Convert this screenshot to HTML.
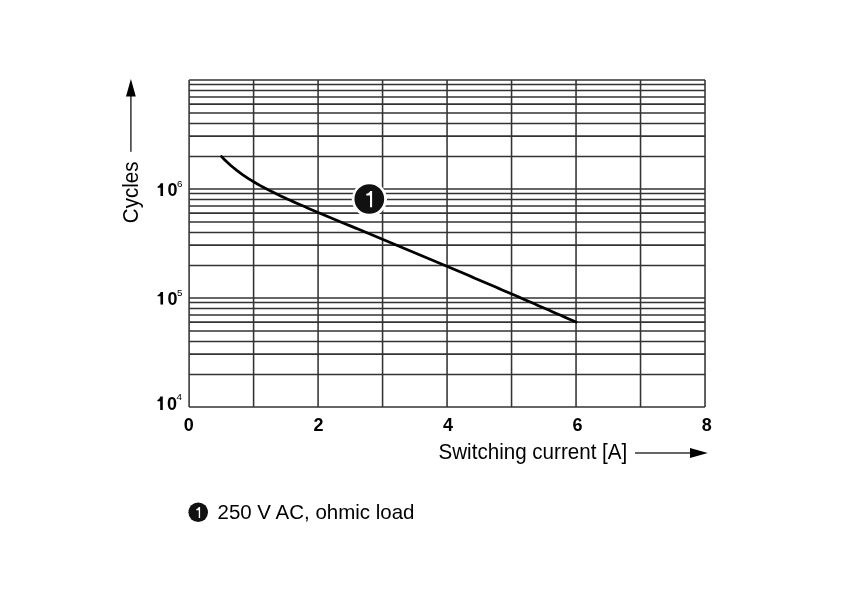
<!DOCTYPE html>
<html><head><meta charset="utf-8"><style>
html,body{margin:0;padding:0;background:#fff;}
svg{display:block;will-change:transform;}
text{font-family:"Liberation Sans",sans-serif;}
</style></head><body>
<svg width="841" height="611" viewBox="0 0 841 611">
<rect width="841" height="611" fill="#fff"/>
<g stroke="#333" stroke-width="1.55" fill="none">
<line x1="189.10" y1="84.55" x2="705.02" y2="84.55"/>
<line x1="189.10" y1="90.50" x2="705.02" y2="90.50"/>
<line x1="189.10" y1="97.00" x2="705.02" y2="97.00"/>
<line x1="189.10" y1="104.10" x2="705.02" y2="104.10"/>
<line x1="189.10" y1="113.00" x2="705.02" y2="113.00"/>
<line x1="189.10" y1="123.40" x2="705.02" y2="123.40"/>
<line x1="189.10" y1="136.10" x2="705.02" y2="136.10"/>
<line x1="189.10" y1="156.50" x2="705.02" y2="156.50"/>
<line x1="189.10" y1="193.55" x2="705.02" y2="193.55"/>
<line x1="189.10" y1="199.50" x2="705.02" y2="199.50"/>
<line x1="189.10" y1="206.00" x2="705.02" y2="206.00"/>
<line x1="189.10" y1="213.10" x2="705.02" y2="213.10"/>
<line x1="189.10" y1="222.00" x2="705.02" y2="222.00"/>
<line x1="189.10" y1="232.40" x2="705.02" y2="232.40"/>
<line x1="189.10" y1="245.10" x2="705.02" y2="245.10"/>
<line x1="189.10" y1="265.50" x2="705.02" y2="265.50"/>
<line x1="189.10" y1="302.55" x2="705.02" y2="302.55"/>
<line x1="189.10" y1="308.50" x2="705.02" y2="308.50"/>
<line x1="189.10" y1="315.00" x2="705.02" y2="315.00"/>
<line x1="189.10" y1="322.10" x2="705.02" y2="322.10"/>
<line x1="189.10" y1="331.00" x2="705.02" y2="331.00"/>
<line x1="189.10" y1="341.40" x2="705.02" y2="341.40"/>
<line x1="189.10" y1="354.10" x2="705.02" y2="354.10"/>
<line x1="189.10" y1="374.50" x2="705.02" y2="374.50"/>
<line x1="189.10" y1="189.00" x2="705.02" y2="189.00"/>
<line x1="189.10" y1="298.00" x2="705.02" y2="298.00"/>
<line x1="189.10" y1="406.90" x2="705.02" y2="406.90"/>
<line x1="189.10" y1="80.00" x2="705.02" y2="80.00"/>
<line x1="189.10" y1="80.00" x2="189.10" y2="406.90"/>
<line x1="253.59" y1="80.00" x2="253.59" y2="406.90"/>
<line x1="318.08" y1="80.00" x2="318.08" y2="406.90"/>
<line x1="382.57" y1="80.00" x2="382.57" y2="406.90"/>
<line x1="447.06" y1="80.00" x2="447.06" y2="406.90"/>
<line x1="511.55" y1="80.00" x2="511.55" y2="406.90"/>
<line x1="576.04" y1="80.00" x2="576.04" y2="406.90"/>
<line x1="640.53" y1="80.00" x2="640.53" y2="406.90"/>
<line x1="705.02" y1="80.00" x2="705.02" y2="406.90"/>
</g>
<path d="M221.60,156.58 L224.58,159.67 L227.56,162.55 L230.54,165.24 L233.52,167.78 L236.49,170.16 L239.47,172.42 L242.45,174.57 L245.43,176.61 L248.41,178.56 L251.39,180.42 L254.37,182.22 L257.35,183.95 L260.33,185.62 L263.31,187.24 L266.28,188.82 L269.26,190.35 L272.24,191.85 L275.22,193.32 L278.20,194.76 L281.18,196.17 L284.16,197.56 L287.14,198.93 L290.12,200.29 L293.10,201.62 L296.07,202.95 L299.05,204.26 L302.03,205.56 L305.01,206.85 L307.99,208.14 L310.97,209.41 L313.95,210.68 L316.93,211.94 L319.91,213.20 L322.89,214.46 L325.86,215.71 L328.84,216.96 L331.82,218.20 L334.80,219.45 L337.78,220.69 L340.76,221.93 L343.74,223.17 L346.72,224.40 L349.70,225.64 L352.68,226.88 L355.65,228.11 L358.63,229.35 L361.61,230.59 L364.59,231.82 L367.57,233.06 L370.55,234.30 L373.53,235.53 L376.51,236.77 L379.49,238.01 L382.47,239.25 L385.44,240.49 L388.42,241.73 L391.40,242.97 L394.38,244.21 L397.36,245.46 L400.34,246.70 L403.32,247.94 L406.30,249.19 L409.28,250.44 L412.26,251.68 L415.23,252.93 L418.21,254.18 L421.19,255.43 L424.17,256.69 L427.15,257.94 L430.13,259.19 L433.11,260.45 L436.09,261.71 L439.07,262.96 L442.05,264.22 L445.02,265.48 L448.00,266.75 L450.98,268.01 L453.96,269.27 L456.94,270.54 L459.92,271.80 L462.90,273.07 L465.88,274.34 L468.86,275.61 L471.84,276.88 L474.81,278.15 L477.79,279.42 L480.77,280.70 L483.75,281.97 L486.73,283.25 L489.71,284.53 L492.69,285.81 L495.67,287.09 L498.65,288.37 L501.63,289.65 L504.60,290.94 L507.58,292.22 L510.56,293.51 L513.54,294.79 L516.52,296.08 L519.50,297.37 L522.48,298.66 L525.46,299.96 L528.44,301.25 L531.42,302.55 L534.39,303.84 L537.37,305.14 L540.35,306.44 L543.33,307.74 L546.31,309.04 L549.29,310.34 L552.27,311.64 L555.25,312.95 L558.23,314.25 L561.21,315.56 L564.18,316.87 L567.16,318.18 L570.14,319.49 L573.12,320.80 L576.10,322.11" stroke="#000" stroke-width="2.75" fill="none" stroke-linecap="round"/>
<circle cx="369.4" cy="199.2" r="17.6" fill="#fff"/>
<circle cx="369.3" cy="199.0" r="14.85" fill="#111"/>
<path d="M372.10,190.90 L372.10,207.30 L370.00,207.30 L370.00,195.60 L366.30,195.60 L366.30,193.80 C368.15,193.60 369.70,192.06 370.20,190.90 Z" fill="#fff"/>
<!-- y axis arrow -->
<line x1="130.9" y1="96" x2="130.9" y2="151.8" stroke="#333" stroke-width="1.5"/>
<path d="M130.9,79.0 L126,96.6 L135.8,96.6 Z" fill="#000"/>
<text transform="translate(137.5,223.2) rotate(-90) scale(1,1.04)" font-size="20.55" fill="#000">Cycles</text>
<!-- y labels -->
<path d="M162.80,396.50 L162.80,409.90 L160.20,409.90 L160.20,401.20 L157.40,401.20 L157.40,400.00 C158.80,399.80 159.90,397.90 160.40,396.50 Z" fill="#000"/>
<path d="M163.05,291.95 L163.05,304.60 L160.45,304.60 L160.45,296.30 L157.60,296.30 L157.60,295.00 C159.03,294.80 160.15,293.17 160.65,291.95 Z" fill="#000"/>
<path d="M163.05,183.35 L163.05,196.05 L160.45,196.05 L160.45,187.75 L157.60,187.75 L157.60,186.45 C159.03,186.25 160.15,184.59 160.65,183.35 Z" fill="#000"/>
<g font-weight="bold" font-size="18" fill="#000">
<text x="167.0" y="409.9">0</text>
<text x="167.4" y="304.6">0</text>
<text x="167.4" y="196.05">0</text>
</g>
<g font-size="9.8" fill="#000">
<text x="176.6" y="399.9">4</text>
<text x="177.1" y="295.9">5</text>
<text x="177.1" y="187.0">6</text>
</g>
<!-- x labels -->
<g font-weight="bold" font-size="18" fill="#000" text-anchor="middle">
<text transform="translate(188.7,431.1) scale(1,1.04)">0</text>
<text transform="translate(318.6,431.1) scale(1,1.04)">2</text>
<text transform="translate(448.1,431.1) scale(1,1.04)">4</text>
<text transform="translate(577.4,431.1) scale(1,1.04)">6</text>
<text transform="translate(706.7,431.1) scale(1,1.04)">8</text>
</g>
<text transform="translate(438.5,459.3) scale(1,1.04)" font-size="20.6" fill="#000">Switching current [A]</text>
<line x1="635" y1="452.9" x2="692" y2="452.9" stroke="#333" stroke-width="1.5"/>
<path d="M707.8,452.9 L690,447.9 L690,458 Z" fill="#000"/>
<!-- legend -->
<circle cx="198.2" cy="512.3" r="9.8" fill="#111"/>
<path d="M200.10,507.10 L200.10,517.90 L198.75,517.90 L198.75,510.20 L196.30,510.20 L196.30,509.10 C197.53,508.90 198.45,507.90 198.95,507.10 Z" fill="#fff"/>
<text transform="translate(217.5,519.4) scale(1,1.02)" font-size="20.5" fill="#000">250 V AC, ohmic load</text>
</svg>
</body></html>
